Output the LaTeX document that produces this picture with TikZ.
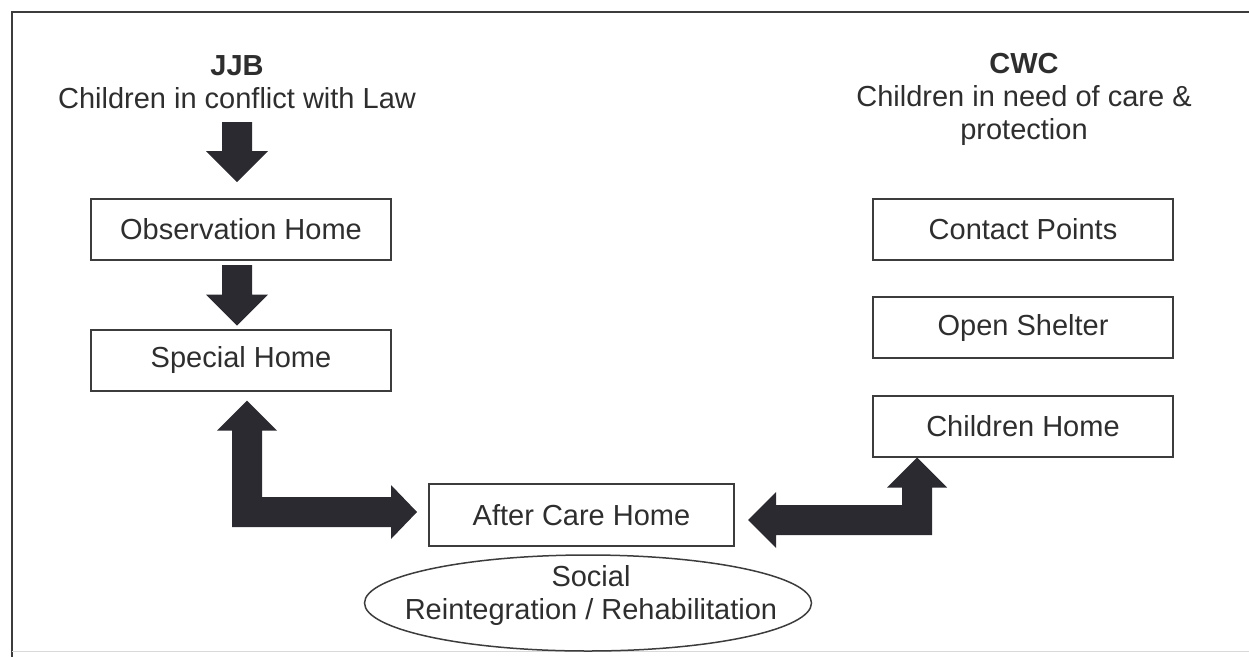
\documentclass[tikz,border=0pt]{standalone}
\usepackage{fontspec}
\setmainfont{Liberation Sans}
\usetikzlibrary{calc,shapes.geometric}
\definecolor{ink}{HTML}{2E2E2E}
\definecolor{linec}{HTML}{3C3C3C}
\definecolor{arrowc}{HTML}{2A2A30}
\newcommand\vblk[2]{%
\fill[blk] let \p1=(#1), \p2=(#2) in
 (\x1-15pt,\y1) -- (\x1+15pt,\y1) -- (\x1+15pt,\y2+31pt) -- (\x1+31pt,\y2+31pt)
 -- (\x2,\y2) -- (\x1-31pt,\y2+31pt) -- (\x1-15pt,\y2+31pt) -- cycle;}
\begin{document}
\begin{tikzpicture}[x=1pt,y=-1pt,
  every node/.style={text=ink, font=\fontsize{29}{33}\selectfont},
  box/.style={draw=linec, line width=2pt, minimum width=300pt, minimum height=61pt, inner sep=0pt},
  hdr/.style={align=center, inner sep=0pt},
  blk/.style={fill=arrowc}]
\useasboundingbox (0,0) rectangle (1249,656);
% frame
\draw[linec, line width=2pt] (12,660) -- (12,12) -- (1255,12);
\draw[black!15, line width=1pt] (12,651) -- (1255,651);
% headers
\node[hdr] (jjb) at (237,82) {\textbf{JJB}\\Children in conflict with Law};
\node[hdr] (cwc) at (1024,99) {\textbf{CWC}\\Children in need of care \&\\protection};
% boxes
\node[box] (obs) at (241,229.5) {Observation Home};
\node[box] (spec) at (241,360) {Special Home};
\node[box] (cp) at (1023,229.5) {Contact Points};
\node[box] (os) at (1023,327.5) {Open Shelter};
\node[box] (ch) at (1023,426) {Children Home};
\node[box, minimum width=305pt, minimum height=62pt] (ach) at (581.5,515) {After Care Home};
% ellipse
\node[ellipse, draw=linec, line width=1.5pt, minimum width=447pt, minimum height=96pt, inner sep=0pt] (soc) at (588,603) {};
\node[hdr] (soctxt) at (591,595) {Social\\Reintegration / Rehabilitation};
% straight arrows
\path (obs.north) ++(-4,-16) coordinate (a1t);
\coordinate (a1s) at (a1t |- 0,122);
\vblk{a1s}{a1t}
\path (spec.north) ++(-4,-3) coordinate (a2t);
\path (obs.south) ++(-4,4) coordinate (a2s);
\vblk{a2s}{a2t}
% left L arrow
\path (spec.south) ++(6,9) coordinate (lv);
\path (ach.west) ++(-11,-3) coordinate (lh);
\coordinate (lc) at (lv |- lh);
\fill[blk] (lv) -- ($(lv)+(30,30)$) -- ($(lv)+(15,30)$) -- ($(lc)+(15,-15)$)
  -- ($(lh)+(-26,-15)$) -- ($(lh)+(-26,-27)$) -- (lh) -- ($(lh)+(-26,27)$)
  -- ($(lh)+(-26,15)$) -- ($(lc)+(-15,15)$) -- ($(lv)+(-15,30)$) -- ($(lv)+(-30,30)$) -- cycle;
% right L arrow
\path (ch.south) ++(-106,0) coordinate (rv);
\path (ach.east) ++(13,5) coordinate (rh);
\coordinate (rc) at (rv |- rh);
\fill[blk] (rv) -- ($(rv)+(30,30)$) -- ($(rv)+(15,30)$) -- ($(rc)+(15,15)$)
  -- ($(rh)+(28,15)$) -- ($(rh)+(28,28)$) -- (rh) -- ($(rh)+(28,-28)$)
  -- ($(rh)+(28,-15)$) -- ($(rc)+(-15,-15)$) -- ($(rv)+(-15,30)$) -- ($(rv)+(-30,30)$) -- cycle;
\end{tikzpicture}
\end{document}
